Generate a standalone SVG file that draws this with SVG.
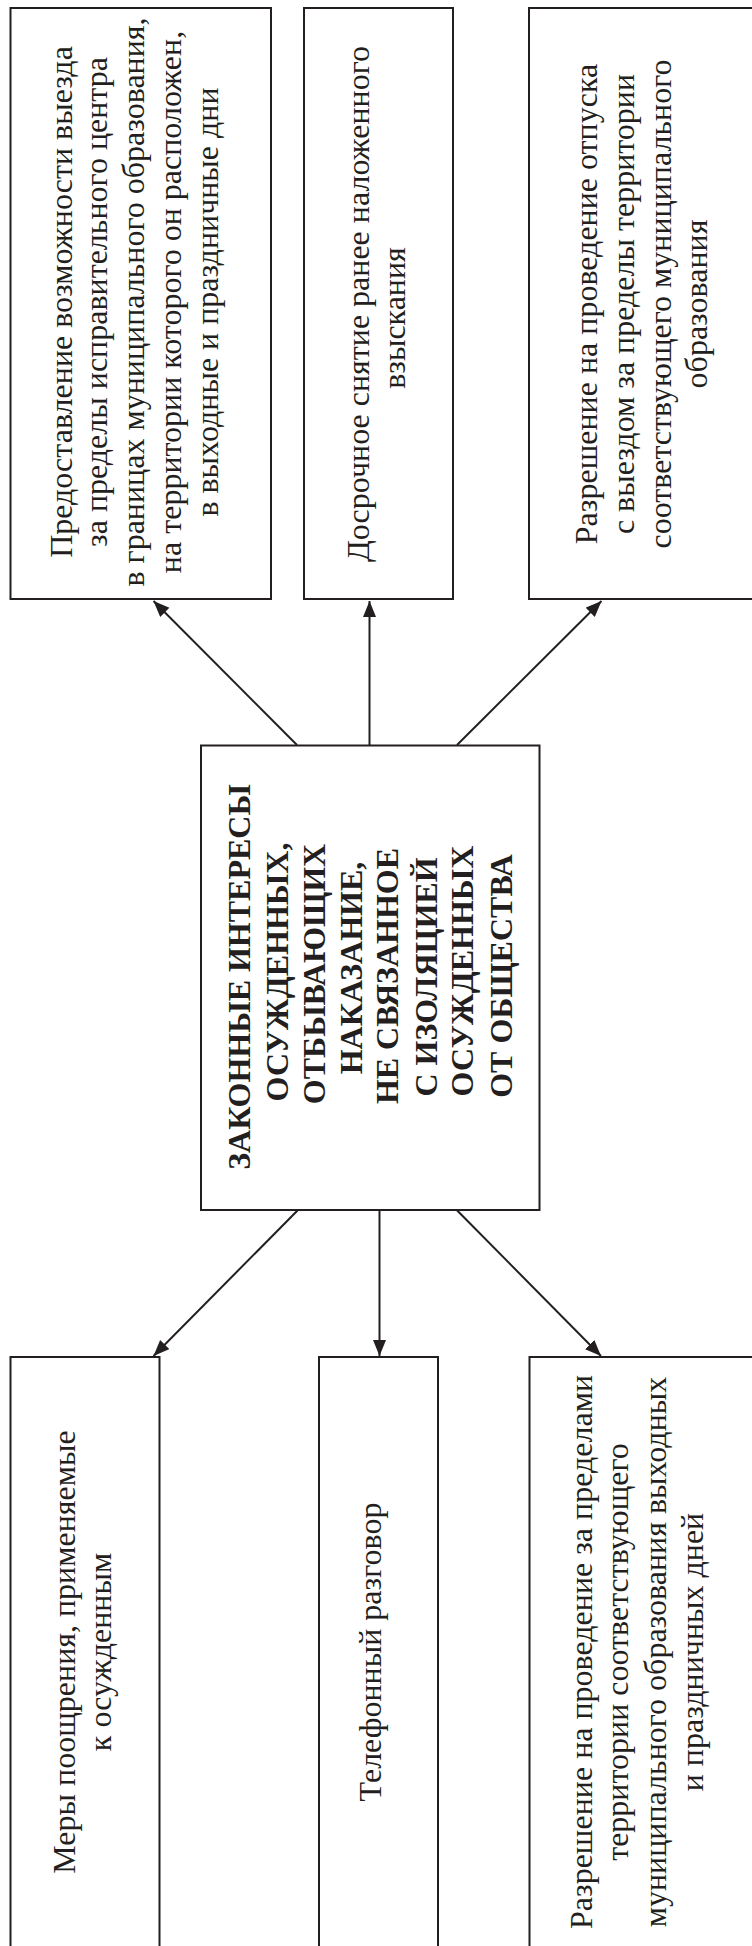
<svg xmlns="http://www.w3.org/2000/svg" width="752" height="1946" viewBox="0 0 752 1946">
<style>
.box{fill:#fff;stroke:#231f20;stroke-width:2}
.t{font-family:"Liberation Serif","Times New Roman",serif;font-size:32px;fill:#231f20;text-anchor:middle}
.b{font-family:"Liberation Serif","Times New Roman",serif;font-size:32px;font-weight:bold;fill:#231f20;text-anchor:middle}
.c{fill:none;stroke:#231f20;stroke-width:2}
</style>
<defs>
<marker id="ah" markerUnits="userSpaceOnUse" markerWidth="17" markerHeight="14" refX="16" refY="6.5" orient="auto">
<path d="M0,0 L16,6.5 L0,13 z" fill="#231f20"/>
</marker>
</defs>
<rect width="752" height="1946" fill="#fff"/>
<g id="connectors">
<path class="c" d="M297,745 L153.5,601" marker-end="url(#ah)"/>
<path class="c" d="M369.5,745 L369.5,601" marker-end="url(#ah)"/>
<path class="c" d="M457,745 L601.5,601" marker-end="url(#ah)"/>
<path class="c" d="M298,1210 L153.5,1356" marker-end="url(#ah)"/>
<path class="c" d="M379.5,1210 L379.5,1356" marker-end="url(#ah)"/>
<path class="c" d="M456.7,1210 L601,1356" marker-end="url(#ah)"/>
</g>
<g id="top1">
<rect class="box" x="10.5" y="8" width="260.5" height="591"/>
<text class="t" transform="translate(72,302) rotate(-90)">Предоставление возможности выезда</text>
<text class="t" transform="translate(107,302) rotate(-90)">за пределы исправительного центра</text>
<text class="t" transform="translate(143.5,302) rotate(-90)">в границах муниципального образования,</text>
<text class="t" transform="translate(180.5,302) rotate(-90)">на территории которого он расположен,</text>
<text class="t" transform="translate(217.5,302) rotate(-90)">в выходные и праздничные дни</text>
</g>
<g id="top2">
<rect class="box" x="304" y="8" width="149" height="591"/>
<text class="t" transform="translate(369,304) rotate(-90)">Досрочное снятие ранее наложенного</text>
<text class="t" transform="translate(405,318) rotate(-90)">взыскания</text>
</g>
<g id="top3">
<rect class="box" x="529" y="8" width="240" height="591"/>
<text class="t" transform="translate(597,304) rotate(-90)">Разрешение на проведение отпуска</text>
<text class="t" transform="translate(634,304) rotate(-90)">с выездом за пределы территории</text>
<text class="t" transform="translate(671,304) rotate(-90)">соответствующего муниципального</text>
<text class="t" transform="translate(707,304) rotate(-90)">образования</text>
</g>
<g id="center">
<rect class="box" x="201" y="745.5" width="338.5" height="464.5"/>
<text class="b" transform="translate(250,977) rotate(-90)">ЗАКОННЫЕ ИНТЕРЕСЫ</text>
<text class="b" transform="translate(288,972) rotate(-90)">ОСУЖДЕННЫХ,</text>
<text class="b" transform="translate(325,974) rotate(-90)">ОТБЫВАЮЩИХ</text>
<text class="b" transform="translate(362,968) rotate(-90)">НАКАЗАНИЕ,</text>
<text class="b" transform="translate(398,976) rotate(-90)">НЕ СВЯЗАННОЕ</text>
<text class="b" transform="translate(437,977) rotate(-90)">С ИЗОЛЯЦИЕЙ</text>
<text class="b" transform="translate(473,971) rotate(-90)">ОСУЖДЕННЫХ</text>
<text class="b" transform="translate(512,976) rotate(-90)">ОТ ОБЩЕСТВА</text>
</g>
<g id="bottom1">
<rect class="box" x="10.5" y="1357" width="149" height="600"/>
<text class="t" transform="translate(75,1652) rotate(-90)">Меры поощрения, применяемые</text>
<text class="t" transform="translate(111,1652) rotate(-90)">к осужденным</text>
</g>
<g id="bottom2">
<rect class="box" x="319" y="1357" width="119" height="600"/>
<text class="t" transform="translate(381,1652) rotate(-90)">Телефонный разговор</text>
</g>
<g id="bottom3">
<rect class="box" x="529.5" y="1357" width="240" height="600"/>
<text class="t" transform="translate(592,1652) rotate(-90)">Разрешение на проведение за пределами</text>
<text class="t" transform="translate(628,1652) rotate(-90)">территории соответствующего</text>
<text class="t" transform="translate(666,1652) rotate(-90)">муниципального образования выходных</text>
<text class="t" transform="translate(703,1652) rotate(-90)">и праздничных дней</text>
</g>
</svg>
